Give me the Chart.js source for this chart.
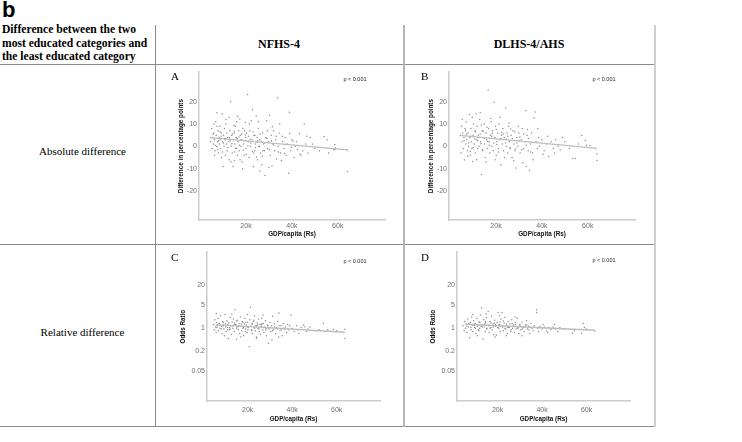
<!DOCTYPE html>
<html><head><meta charset="utf-8">
<script src="https://cdn.jsdelivr.net/npm/chart.js@4.4.1/dist/chart.umd.min.js"></script>
<style>
html,body{margin:0;padding:0;background:#fff;}
#root{position:relative;width:742px;height:442px;overflow:hidden;background:#fff;}
.t{position:absolute;white-space:nowrap;color:#000;}
.serif{font-family:"Liberation Serif","Times New Roman",serif;}
.sans{font-family:"Liberation Sans",Arial,sans-serif;}
.hl{position:absolute;height:1px;background:#8c8c8c;}
.vl{position:absolute;width:1px;background:#8c8c8c;}
.p{position:absolute;font-family:"Liberation Sans",Arial,sans-serif;font-size:5.5px;line-height:6px;color:#222;white-space:nowrap;transform:translate(-50%,-50%);}
canvas{position:absolute;}
</style></head><body>
<div id="root">
  <div class="t sans" style="left:2px;top:-2px;font-size:22px;font-weight:bold;line-height:24px;">b</div>
  <div class="t serif" style="left:2px;top:23px;font-size:11.6px;font-weight:bold;line-height:13.5px;">Difference between the two<br>most educated categories and<br>the least educated category</div>
  <div class="t serif" style="left:155px;width:248px;text-align:center;top:36.5px;font-size:12px;font-weight:bold;line-height:14px;">NFHS-4</div>
  <div class="t serif" style="left:403px;width:252px;text-align:center;top:36.5px;font-size:12px;font-weight:bold;line-height:14px;">DLHS-4/AHS</div>
  <div class="t serif" style="left:5px;width:155px;text-align:center;top:144px;font-size:11px;line-height:14px;">Absolute difference</div>
  <div class="t serif" style="left:5px;width:155px;text-align:center;top:325px;font-size:11px;line-height:14px;">Relative difference</div>

  <div class="hl" style="left:0;top:64px;width:655px;"></div>
  <div class="hl" style="left:0;top:244px;width:655px;"></div>
  <div class="hl" style="left:0;top:426px;width:655px;"></div>
  <div class="vl" style="left:155px;top:25px;height:402px;"></div>
  <div class="vl" style="left:403px;top:25px;height:402px;width:2px;background:#b5b5b5;"></div>
  <div class="vl" style="left:654px;top:25px;height:402px;width:2px;background:#cfcfcf;"></div>

  <canvas id="cA" width="248" height="178" style="left:155px;top:66px;"></canvas>
  <canvas id="cB" width="252" height="178" style="left:403px;top:66px;"></canvas>
  <canvas id="cC" width="248" height="180" style="left:155px;top:246px;"></canvas>
  <canvas id="cD" width="252" height="180" style="left:403px;top:246px;"></canvas>

  <div class="t serif" style="left:171px;top:70px;font-size:11px;line-height:12px;">A</div>
  <div class="t serif" style="left:421px;top:70px;font-size:11px;line-height:12px;">B</div>
  <div class="t serif" style="left:171px;top:251px;font-size:11px;line-height:12px;">C</div>
  <div class="t serif" style="left:421px;top:251px;font-size:11px;line-height:12px;">D</div>
  <div class="p" style="left:355px;top:79px;">p &lt; 0.001</div>
  <div class="p" style="left:604px;top:79px;">p &lt; 0.001</div>
  <div class="p" style="left:355px;top:260.5px;">p &lt; 0.001</div>
  <div class="p" style="left:604px;top:260px;">p &lt; 0.001</div>
</div>
<script>
// GDP per capita in thousands of Rs
const gdpTicks = [20, 40, 60];
const absTicks = [-20, -10, 0, 10, 20];
const orTicks = [0.05, 0.2, 1, 5, 20];

// Panel A: NFHS-4 absolute difference [gdp(k), difference(pp)]
const absNfhs = [[4.5,2],[5,8],[5.2,-1],[5.5,4],[5.8,1],[6,6],[6.2,3],[6.5,-2],[6.8,11],[7,5],[7.2,0],[7.4,15],[7.6,2],[7.8,7],[8,-3],[8.2,4],[8.4,1],[8.6,9],[8.8,3],[9,-1],[9.2,6],[9.6,14.5],[9.8,2],[10,-9],[10.2,5],[10.4,0],[10.6,8],[10.8,3],[11,-4],[11.2,10],[11.4,1],[11.6,6],[11.8,-2],[12,4],[12.6,12.9],[12.5,2],[12.7,-6],[13,7],[13.3,20],[13.5,0],[13.7,5],[14,-3],[14.7,9.3],[14.5,3],[14.9,-6.4],[15,6],[15.2,1],[15.5,-1],[15.8,4],[16,11],[16.2,-4],[16.5,2],[16.8,7],[17,-2],[17.3,12.2],[17.5,5],[17.8,0],[18,3],[18.3,-7],[18.6,8],[19,1],[19.2,-4],[19.7,10.7],[19.9,4],[20,-1],[20.3,6],[20.7,23.2],[21,2],[21.3,-5],[21.6,7],[22,0],[22.3,11.4],[22.6,3],[22.9,16.4],[23.2,-9],[23.5,5],[23.8,-2],[24,1],[24.4,13.6],[24.8,4],[25,-6],[25.3,8],[25.7,0],[26,3],[26.4,-3],[26.9,-8.2],[27.2,6],[27.6,1],[28,-2],[28.3,-13.1],[28.6,4],[29,11.5],[29.4,-1],[29.8,2],[30.2,13.9],[30.6,-4],[31,5],[31.3,-8.8],[31.7,1],[32,7],[32.5,-2],[33,3],[33.3,-5.7],[33.7,21.7],[34,0],[34.5,6],[34.7,10],[35,-3],[35.4,-6.4],[36,2],[36.5,-1],[37,4],[37.5,-4],[38,1],[38.6,-12.1],[38.9,15.3],[39,5.9],[39.5,-2],[40,3],[41,-5],[41.5,0],[42,2],[43.3,5.6],[43.5,-3.5],[44,-4],[44.7,-2.1],[45.4,10],[46,1],[47,-3],[48,4],[50,-1],[52,-2],[54,4.3],[55.4,2.9],[56,-3],[58.3,-1.4],[58.6,-1.3],[59,-0.7],[58.7,0.8],[64.2,-11.3],[64.2,-1.6],
[8.1,2.5],[9.1,4.5],[10.1,1.5],[11.1,3.5],[12.1,-0.5],[13.1,2.5],[14.1,5.5],[15.1,-2.5],[16.1,3.5],[17.1,0.5],[18.1,5.5],[19.1,2.5],[20.1,-3.5],[21.1,4.5],[22.1,1.5],[23.1,6.5],[24.1,-0.5],[25.1,2.5],[26.1,5.5],[27.1,-4.5],[28.1,1.5],[29.1,3.5],[30.1,-1.5],[31.1,2.5],[32.1,0.5],[33.1,4.5],[34.1,-2.5],[6.3,-4],[7.3,9],[9.3,-5],[11.3,12],[13.4,-7],[15.3,9],[17.4,-6],[19.3,7],[21.4,10],[23.3,-3],[25.4,11],[27.3,-2],[29.3,7],[12.8,3.8],[13.8,1.2],[14.8,6.8],[15.9,-0.8],[16.9,4.2],[17.9,2.8],[18.8,-1.8],[19.8,5.2],[20.8,0.2],[21.8,3.2],[22.8,-2.2],[23.9,4.8],[24.9,1.8],[25.8,-0.2],[26.8,2.2],[5.6,5.5],[6.6,0.5],[7.7,-1.5],[8.7,6.5],[9.7,-2.5],[10.7,3.2],[35.8,4.5],[37.2,0.8],[39.8,-0.5],[42.5,-1.5],[46.5,4.5],[49,1],[14.3,-9],[18.5,-10],[26,-11],[30,-9.5],[6.1,10],[16.4,13.5],[24.6,-4.8],[31.5,8.8],[36.8,-3.2],[40.5,2.3]];
const absNfhsFit = [[4.2,3.9],[64.2,-1.6]];

// Panel B: DLHS-4/AHS absolute difference
const absDlhs = [[4.5,5],[4.8,-3],[5,9],[5.2,2],[5.5,6],[5.8,-1],[6,4],[6.2,-6.1],[6.5,8],[6.8,1],[7,11],[7.2,3],[7.5,-2],[7.8,6],[8,0],[8.4,14.2],[8.6,4],[8.8,-4],[9,8],[9.3,2],[9.5,-1],[9.8,-6.8],[10,5],[10.2,10],[10.5,1],[10.8,7],[11,-3],[11.3,14.5],[11.5,3],[11.8,9],[12,-1],[12.3,5],[12.6,0],[12.9,12],[13.1,15],[13.3,2],[13.7,-12.6],[14,7],[14.2,-2],[14.5,4],[14.8,10],[15,1],[15.3,-5],[15.6,6],[15.9,3],[16.2,-1],[16.6,25.2],[16.8,8],[17,2],[17.3,-3],[17.6,5],[17.9,11],[18.2,0],[18.5,7],[18.8,-2],[19.2,19.7],[19.5,4],[19.8,9],[20.1,-4],[20.4,2],[20.7,6],[21,-1],[21.3,10],[21.6,3],[22.1,-8.3],[22.4,5],[22.7,1],[23,8],[23.3,-2],[23.6,4],[24.2,17.1],[24.5,0],[24.8,6],[25.1,-3],[25.5,9],[25.8,2],[26.2,-1],[26.6,5],[27,-5],[27.4,7],[27.8,1],[28.2,-2],[28.6,-9.7],[29,4],[29.5,0],[30,6],[30.5,-3],[31,3],[31.5,8],[32,-1],[32.5,2],[33,15.9],[33.2,-9],[33.6,5],[34,-2],[34.6,-10.7],[35,1],[35.5,6],[36,-3],[36.5,12.8],[37,15.4],[37.5,2],[38,-1],[38.5,4],[39,0],[40,3],[41,-2],[42,1],[43,-4.6],[44,2],[45,-1],[46,3],[47,0],[48,-1.7],[50,2],[52,-1],[53.5,-5.4],[54.5,-5.4],[56,1],[57.4,4.8],[58.9,2.6],[59.5,0.5],[61,0.4],[64,-6.4],[64,-3.3],
[6.1,2.5],[7.1,5.5],[8.1,1.5],[9.1,4.5],[10.1,-0.5],[11.1,6.5],[12.1,2.5],[13.1,5.5],[14.1,-1.5],[15.1,3.5],[16.1,8.5],[17.1,0.5],[18.1,4.5],[19.1,1.5],[20.1,7.5],[21.1,-2.5],[22.1,3.5],[23.1,5.5],[24.1,1.5],[25.1,4.5],[26.1,-0.5],[27.1,3.5],[28.1,6.5],[29.1,1.5],[30.1,2.5],[31.1,-1.5],[32.1,5.5],[33.1,0.5],[34.1,3.5],[35.1,-2.5],[5.3,12],[7.6,-4.5],[9.6,13],[11.6,-6],[13.6,9.5],[15.7,-7],[17.7,12.5],[19.7,-6],[21.7,13],[23.7,-5],[25.7,10.5],[27.7,-6.5],[29.7,9],[31.7,-7.5],[33.7,7.5],[12.4,3.8],[13.4,1.2],[14.4,6.8],[16.4,2.2],[18.4,5.8],[20.4,0.8],[22.4,6.2],[24.4,3.2],[26.4,7.8],[28.4,-1.2],[30.4,4.2],[6.7,7.2],[8.7,-2.2],[10.7,3.3],[40.5,-3.5],[42.5,4.5],[45.5,-3],[49,4],[38.2,8],[36.2,-6]];
const absDlhsFit = [[4.2,4.9],[64,-0.9]];

// Panel C: NFHS-4 odds ratio
const relNfhs = [[4.5,1.3],[5,0.9],[5.2,1.8],[5.5,1.1],[5.8,0.75],[6,1.5],[6.3,1.2],[6.6,2.0],[6.9,0.85],[7.2,1.4],[7.5,1.0],[7.8,2.4],[8.1,1.15],[8.4,0.7],[8.7,1.6],[9,1.25],[9.3,0.95],[9.8,2.6],[10,1.35],[10.3,0.8],[10.6,1.7],[10.9,1.05],[11.3,0.49],[11.5,1.45],[11.8,0.9],[12.1,2.1],[12.4,1.2],[12.7,0.65],[13,1.55],[13.3,1.0],[13.6,1.9],[14,0.8],[14.3,3.6],[14.6,1.3],[15,0.47],[15.2,1.1],[15.5,1.75],[15.8,0.9],[16.1,1.4],[16.4,0.7],[16.7,2.2],[17,1.15],[17.3,0.85],[17.6,1.6],[17.9,1.0],[18.2,0.6],[18.5,1.35],[18.8,2.0],[19.1,0.95],[19.4,1.25],[19.7,0.75],[20,1.5],[20.3,1.05],[20.7,0.28],[21,1.8],[21.3,4.3],[21.6,0.9],[21.9,1.3],[22.2,0.7],[22.5,1.6],[22.8,1.1],[23.1,2.4],[23.4,0.85],[23.7,1.2],[24,0.55],[24.3,1.45],[24.6,1.0],[24.9,1.9],[25.2,0.8],[25.5,1.3],[25.8,0.65],[26.1,1.15],[26.4,2.0],[26.7,0.9],[27,1.4],[27.3,0.75],[27.6,1.1],[28,1.7],[28.4,0.6],[28.8,1.25],[29.3,0.35],[29.6,0.95],[30,1.5],[30.4,0.8],[30.8,1.2],[31.2,2.3],[31.6,0.9],[32,1.35],[32.5,0.7],[33,1.05],[33.5,1.6],[34,2.9],[34.5,0.85],[35,1.2],[35.5,0.6],[36,1.4],[36.5,0.95],[37,1.1],[37.5,0.75],[38,1.3],[38.5,0.9],[39.5,2.5],[40,1.0],[41,0.8],[42,1.2],[43,0.7],[44,1.05],[45.7,1.12],[46.5,0.8],[47,0.95],[48,1.1],[50,0.85],[52,0.9],[54,1.42],[55,0.8],[56,0.9],[58.5,0.93],[60,0.85],[63.7,0.49],[63.7,0.93],
[6.1,1.05],[7.1,1.25],[8.1,0.95],[9.1,1.5],[10.1,1.1],[11.1,1.3],[12.1,0.95],[13.1,1.2],[14.1,1.45],[15.1,1.0],[16.1,1.2],[17.1,1.35],[18.1,1.05],[19.1,1.5],[20.1,0.9],[21.1,1.15],[22.1,1.4],[23.1,1.0],[24.1,1.2],[25.1,0.95],[26.1,1.3],[27.1,1.05],[28.1,0.9],[29.1,1.2],[30.1,1.05],[31.1,0.85],[32.1,1.1],[33.1,0.95],[34.1,1.2],[35.1,0.9],[36.1,1.0],[5.9,2.8],[9.5,0.6],[12.9,2.7],[16.9,0.55],[19.9,2.6],[23.9,0.5],[26.9,2.5],[30.9,0.45],[33.9,0.55],[11.9,1.05],[13.9,1.3],[15.9,1.15],[17.9,1.5],[19.9,1.1],[21.9,0.85],[24.4,1.25],[26.4,1.35],[28.4,1.0],[8.9,1.15],[10.9,0.9],[14.9,1.65],[18.9,0.8],[22.9,1.75],[38.9,1.2],[42.5,0.9],[45,1.25]];
const relNfhsFit = [[5.6,1.29],[63.7,0.76]];

// Panel D: DLHS-4/AHS odds ratio
const relDlhs = [[4.5,1.2],[5,0.85],[5.3,1.6],[5.6,1.0],[6,1.35],[6.3,0.75],[6.6,1.9],[7,1.1],[7.5,0.52],[7.8,1.5],[8.1,0.9],[8.4,2.2],[8.7,1.25],[9,0.8],[9.3,1.7],[9.7,1.05],[10,1.4],[10.3,0.7],[10.7,2.0],[11,1.15],[11.3,0.9],[11.7,1.55],[12,1.0],[12.3,2.5],[12.8,4.1],[13,1.3],[13.5,0.47],[13.8,1.8],[14.1,1.1],[14.4,0.8],[14.7,1.45],[15,2.1],[15.3,1.0],[15.8,3.2],[16,1.25],[16.3,0.75],[16.6,1.6],[17,1.05],[17.3,2.3],[17.6,0.9],[18,1.35],[18.3,0.65],[18.7,1.75],[19,1.15],[19.5,0.62],[19.8,1.5],[20.3,3.0],[20.6,1.0],[21,1.3],[21.3,0.8],[21.6,1.9],[22,3.0],[22.3,1.1],[22.6,0.85],[23,1.45],[23.3,2.1],[23.7,0.95],[24,1.2],[24.4,0.7],[24.8,1.6],[25.2,1.05],[25.6,1.35],[26,0.8],[26.4,1.8],[26.8,1.0],[27.2,1.25],[27.6,0.75],[28,1.5],[28.4,0.95],[28.8,2.0],[29.2,1.1],[29.6,0.7],[30,1.3],[30.5,0.9],[31,1.55],[31.5,1.05],[32,0.8],[32.5,1.25],[33,1.7],[33.5,0.95],[34,1.15],[34.5,0.7],[35,1.4],[35.5,1.0],[36,0.85],[36.5,1.2],[37.5,3.6],[37.6,3.0],[38,1.0],[38.5,0.8],[39,1.15],[40,0.95],[41,1.1],[42,0.85],[43,1.05],[44,0.9],[45,1.1],[46,0.95],[47,0.8],[48,1.05],[50,0.95],[53.7,0.71],[54.5,0.85],[57.7,0.71],[58.5,1.4],[59,1.05],[60,0.95],[63.7,0.83],
[6.1,1.15],[7.1,1.4],[8.1,1.05],[9.1,1.3],[10.1,1.0],[11.1,1.25],[12.1,1.5],[13.1,1.1],[14.1,1.35],[15.1,0.95],[16.1,1.2],[17.1,1.45],[18.1,1.1],[19.1,1.3],[20.1,1.05],[21.1,1.55],[22.1,1.2],[23.1,1.0],[24.1,1.35],[25.1,1.1],[26.1,0.9],[27.1,1.15],[28.1,1.3],[29.1,1.0],[30.1,1.2],[31.1,0.95],[32.1,1.1],[33.1,1.25],[34.1,0.9],[35.1,1.05],[8.9,2.6],[10.9,0.6],[14.9,2.7],[18.9,0.55],[20.9,2.4],[23.9,0.6],[27.9,2.2],[30.9,0.6],[12.6,1.15],[14.6,1.6],[16.6,1.0],[18.6,1.45],[20.6,1.25],[22.6,1.65],[24.6,1.05],[26.6,1.4],[9.6,1.2],[11.6,0.85],[40.5,1.3],[42.5,0.75],[45.5,1.3]];
const relDlhsFit = [[5.6,1.32],[63.7,0.87]];

Chart.defaults.font.family = '"Liberation Sans", Arial, sans-serif';

function panel(id, pts, fit, c) {
  const toXY = a => a.map(p => ({x: p[0], y: p[1]}));
  const tickFont = {size: 7};
  const titleFont = {size: 6.3, weight: 'bold'};
  new Chart(document.getElementById(id), {
    type: 'scatter',
    data: {datasets: [
      {data: toXY(fit), type: 'line', showLine: true, borderColor: '#bdbdbd', borderWidth: 1.4, pointRadius: 0, fill: false, order: 0},
      {data: toXY(pts), pointRadius: 0.75, pointBackgroundColor: 'rgba(85,85,85,0.65)', pointBorderWidth: 0, order: 1}
    ]},
    options: {
      responsive: false, animation: false, devicePixelRatio: 1,
      layout: {padding: c.pad},
      plugins: {legend: {display: false}, tooltip: {enabled: false}},
      scales: {
        x: {
          type: 'linear', min: c.xmin, max: c.xmax,
          afterBuildTicks: a => { a.ticks = gdpTicks.map(v => ({value: v})); },
          afterFit: s => { s.height = c.xh; },
          ticks: {callback: v => v + 'k', color: '#6e6e6e', font: tickFont, padding: c.xtp, maxRotation: 0, autoSkip: false},
          grid: {display: false, drawTicks: false},
          border: {display: true, color: '#cccccc', width: 1.5},
          title: {display: true, text: 'GDP/capita (Rs)', color: '#111', font: titleFont, padding: {top: 0, bottom: c.xtb}}
        },
        y: {
          type: c.log ? 'logarithmic' : 'linear', min: c.ymin, max: c.ymax,
          afterBuildTicks: a => { a.ticks = c.yticks.map(v => ({value: v})); },
          afterFit: s => { s.width = c.yw; },
          ticks: {callback: v => String(v), color: '#6e6e6e', font: tickFont, padding: 2, autoSkip: false},
          grid: {display: false, drawTicks: false},
          border: {display: true, color: '#cccccc', width: 1.5},
          title: {display: true, text: c.ytitle, color: '#111', font: titleFont, padding: {top: 4, bottom: 0}}
        }
      }
    }
  });
}

panel('cA', absNfhs, absNfhsFit, {pad: {left: 18, right: 18, top: 2, bottom: 0}, xmin: -0.5, xmax: 80.6, ymin: -33, ymax: 33.2, yticks: absTicks, yw: 26, xh: 24, xtp: 2, xtb: 6, log: false, ytitle: 'Difference in percentage points'});
panel('cB', absDlhs, absDlhsFit, {pad: {left: 20, right: 20, top: 2, bottom: 0}, xmin: -0.5, xmax: 80.6, ymin: -33, ymax: 33.2, yticks: absTicks, yw: 26, xh: 24, xtp: 2, xtb: 6, log: false, ytitle: 'Difference in percentage points'});
panel('cC', relNfhs, relNfhsFit, {pad: {left: 20, right: 23, top: 4, bottom: 0}, xmin: 1.7, xmax: 79.5, ymin: 0.0065, ymax: 195, yticks: orTicks, yw: 32, xh: 25, xtp: 5, xtb: 3, log: true, ytitle: 'Odds Ratio'});
panel('cD', relDlhs, relDlhsFit, {pad: {left: 22, right: 25, top: 4, bottom: 0}, xmin: 1.8, xmax: 79.5, ymin: 0.0065, ymax: 195, yticks: orTicks, yw: 32, xh: 25, xtp: 5, xtb: 3, log: true, ytitle: 'Odds Ratio'});
</script>
</body></html>
